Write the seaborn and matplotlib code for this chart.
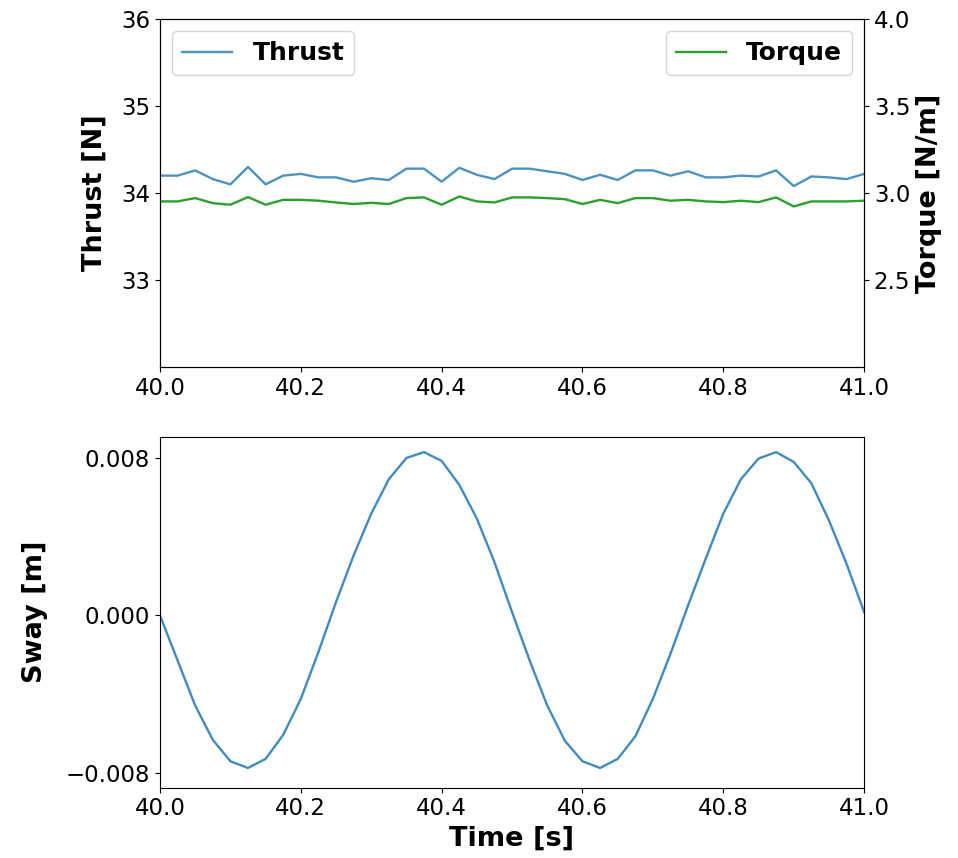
import numpy as np
import pandas as pd
import matplotlib
matplotlib.use("Agg")
import matplotlib.pyplot as plt
import seaborn as sns

# ---- data ----
time = [round(40 + 0.025 * k, 3) for k in range(41)]

thrust = [34.20, 34.20, 34.26, 34.16, 34.10, 34.30, 34.10, 34.20, 34.22, 34.18,
          34.18, 34.13, 34.17, 34.15, 34.28, 34.28, 34.13, 34.29, 34.21, 34.16,
          34.28, 34.28, 34.25, 34.22, 34.15, 34.21, 34.15, 34.26, 34.26, 34.20,
          34.25, 34.18, 34.18, 34.20, 34.19, 34.26, 34.08, 34.19, 34.18, 34.16,
          34.22]

torque = [2.952, 2.952, 2.971, 2.942, 2.933, 2.977, 2.933, 2.961, 2.961, 2.956,
          2.946, 2.937, 2.944, 2.937, 2.971, 2.975, 2.933, 2.980, 2.952, 2.946,
          2.975, 2.975, 2.971, 2.965, 2.937, 2.961, 2.942, 2.971, 2.971, 2.956,
          2.961, 2.952, 2.948, 2.956, 2.948, 2.975, 2.923, 2.952, 2.952, 2.952,
          2.956]

sway = [0.0, -0.00229, -0.00458, -0.00632, -0.00741, -0.00775, -0.00729, -0.00607,
        -0.00424, -0.00186, 0.00068, 0.00305, 0.00517, 0.00692, 0.00800, 0.00830,
        0.00785, 0.00664, 0.00492, 0.00271, 0.00017,
        -0.00229, -0.00458, -0.00637, -0.00741, -0.00775, -0.00729, -0.00615,
        -0.00424, -0.00195, 0.00051, 0.00288, 0.00517, 0.00692, 0.00797, 0.00830,
        0.00780, 0.00672, 0.00483, 0.00263, 0.00017]

thrust_ticks = [33, 34, 35, 36]
torque_ticks = [2.5, 3.0, 3.5, 4.0]
sway_ticks = [-0.008, 0.0, 0.008]
time_ticks = [40.0, 40.2, 40.4, 40.6, 40.8, 41.0]

df = pd.DataFrame({"time": time, "thrust": thrust, "torque": torque, "sway": sway})

TICK_FS = 16.5
LABEL_FS = 19.5
LEGEND_FS = 18

fig = plt.figure(figsize=(9.58, 8.58), dpi=100)
ax1 = fig.add_axes([0.167, 0.572, 0.735, 0.406])
ax3 = fig.add_axes([0.167, 0.082, 0.735, 0.409])

blue = "#1f77b4"
green = "#2ca02c"

sns.lineplot(data=df, x="time", y="thrust", ax=ax1, color=blue, alpha=0.8,
             linewidth=1.7, label="Thrust")
ax1.set_xlim(40, 41)
ax1.set_ylim(32, 36)
ax1.set_yticks(thrust_ticks)
ax1.set_xticks(time_ticks)
ax1.set_xticklabels([f"{t:.1f}" for t in time_ticks])
ax1.set_ylabel("Thrust [N]", fontsize=LABEL_FS, fontweight="bold", labelpad=10)
ax1.set_xlabel("")
ax1.tick_params(labelsize=TICK_FS)
ax1.legend(loc="upper left", prop={"weight": "bold", "size": LEGEND_FS})

ax2 = ax1.twinx()
sns.lineplot(data=df, x="time", y="torque", ax=ax2, color=green,
             linewidth=1.7, label="Torque")
ax2.set_ylim(2.0, 4.0)
ax2.set_yticks(torque_ticks)
ax2.set_yticklabels([f"{t:.1f}" for t in torque_ticks])
ax2.set_ylabel("Torque [N/m]", fontsize=LABEL_FS, fontweight="bold")
ax2.tick_params(labelsize=TICK_FS)
ax2.legend(loc="upper right", prop={"weight": "bold", "size": LEGEND_FS})
ax2.set_xlim(40, 41)

sns.lineplot(data=df, x="time", y="sway", ax=ax3, color=blue, alpha=0.85,
             linewidth=1.7)
ax3.set_xlim(40, 41)
ax3.set_ylim(-0.00875, 0.00908)
ax3.set_yticks(sway_ticks)
ax3.set_yticklabels(["\u22120.008", "0.000", "0.008"])
ax3.set_xticks(time_ticks)
ax3.set_xticklabels([f"{t:.1f}" for t in time_ticks])
ax3.set_ylabel("Sway [m]", fontsize=LABEL_FS, fontweight="bold", labelpad=13)
ax3.set_xlabel("Time [s]", fontsize=LABEL_FS, fontweight="bold")
ax3.tick_params(labelsize=TICK_FS)

fig.savefig("out.png", dpi=100)
